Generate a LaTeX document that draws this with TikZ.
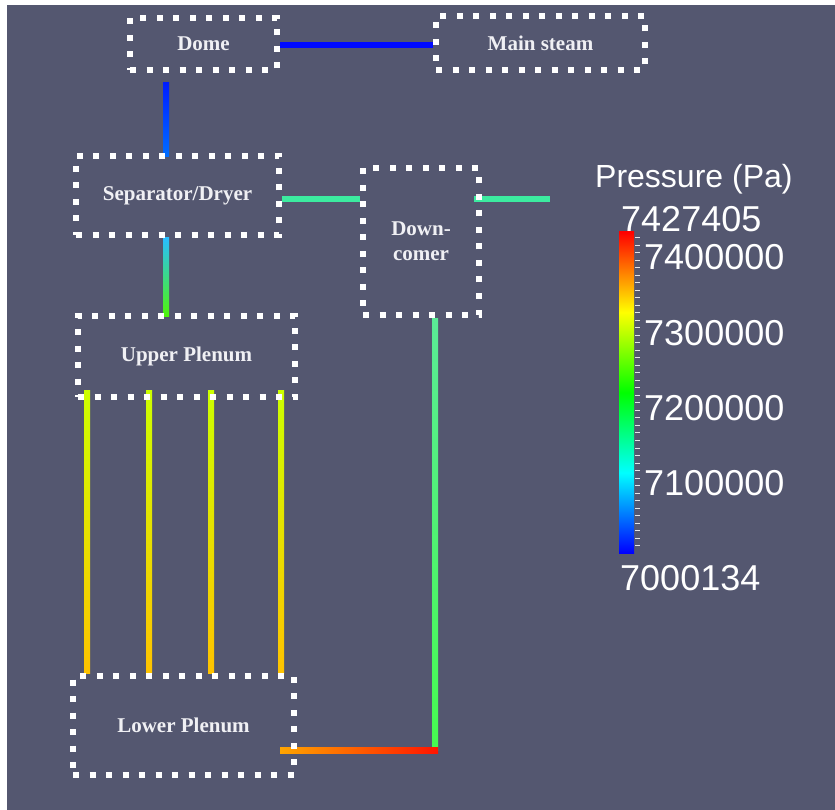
\documentclass[tikz,border=0pt]{standalone}
\usepackage{fontspec}
\setmainfont{Liberation Serif}
\newfontfamily\barfont{Liberation Sans}
\usetikzlibrary{calc,backgrounds}
\definecolor{bgc}{RGB}{84,87,112}
\definecolor{txtc}{RGB}{240,240,244}
\definecolor{pBlue}{RGB}{0,10,255}
\definecolor{pBlueA}{RGB}{0,30,255}
\definecolor{pBlueB}{RGB}{0,110,255}
\definecolor{pCyan}{RGB}{40,190,255}
\definecolor{pGreen}{RGB}{80,245,10}
\definecolor{pAqua}{RGB}{60,235,160}
\definecolor{pMint}{RGB}{90,235,150}
\definecolor{pGreenB}{RGB}{70,250,80}
\definecolor{pYG}{RGB}{205,255,0}
\definecolor{pYO}{RGB}{255,195,0}
\definecolor{pOr}{RGB}{255,165,0}
\definecolor{pRed}{RGB}{255,20,0}
\pgfdeclareverticalshading{rainbow}{100bp}{rgb(0bp)=(0,0,1); rgb(25bp)=(0,0,1); rgb(37.5bp)=(0,1,1); rgb(50bp)=(0,1,0); rgb(62.5bp)=(1,1,0); rgb(75bp)=(1,0,0); rgb(100bp)=(1,0,0)}
\tikzset{
  vessel/.style={draw=white, line width=6pt, dash pattern=on 6pt off 10.5pt,
    inner sep=0pt, text=txtc, font=\bfseries\fontsize{21}{25}\selectfont, align=center},
  barlabel/.style={anchor=base west, inner sep=0pt, text=white, font=\barfont\fontsize{36}{40}\selectfont},
  bartitle/.style={anchor=base west, inner sep=0pt, text=white, font=\barfont\fontsize{32}{36}\selectfont},
}
\begin{document}
\begin{tikzpicture}[x=1pt,y=-1pt]
\useasboundingbox (0,0) rectangle (835,810);

% vessels
\node[vessel, minimum width=147pt, minimum height=52pt] (dome) at (203.5,44) {Dome};
\node[vessel, minimum width=209pt, minimum height=54pt] (steam) at (540.5,43) {Main steam};
\node[vessel, minimum width=203pt, minimum height=79pt] (sep) at (177.5,195.5) {Separator/Dryer};
\node[vessel, minimum width=116pt, minimum height=147pt] (dc) at (421,241.5) {Down-\\comer};
\node[vessel, minimum width=217pt, minimum height=81pt] (up) at (186.5,356.5) {Upper Plenum};
\node[vessel, minimum width=221pt, minimum height=99pt] (lp) at (183.5,725.5) {Lower Plenum};

\coordinate (xa) at (166,0);
\coordinate (xd) at (435,0);
\coordinate (yh) at (0,199);
\coordinate (yb) at (0,750);
\coordinate (ys) at (0,45);
\coordinate (dcend) at (550,199);
\coordinate (corner) at (435,750);
\coordinate (c1) at (87,0);
\coordinate (c2) at (149,0);
\coordinate (c3) at (211,0);
\coordinate (c4) at (281,0);

\begin{pgfonlayer}{background}
\fill[white] (0,0) rectangle (835,810);
\fill[bgc] (7,5) rectangle (835,810);
% pipes
\fill[pBlue] ($(dome.east |- ys)+(0,-3)$) rectangle ($(steam.west |- ys)+(0,3)$);
\shade[top color=pBlueA, bottom color=pBlueB] ($(dome.south -| xa)+(-3,10)$) rectangle ($(sep.north -| xa)+(3,4)$);
\shade[top color=pCyan, bottom color=pGreen] ($(sep.south -| xa)+(-3,0)$) rectangle ($(up.north -| xa)+(3,3)$);
\fill[pAqua] ($(sep.east |- yh)+(0,-3)$) rectangle ($(dc.west |- yh)+(0,3)$);
\fill[pAqua] ($(dc.east |- yh)+(-8,-3)$) rectangle ($(dcend)+(0,3)$);
\shade[top color=pMint, bottom color=pGreenB] ($(dc.south -| xd)+(-3,0)$) rectangle ($(corner)+(3,0)$);
\shade[left color=pOr, right color=pRed] ($(lp.east |- yb)+(-17,-3)$) rectangle ($(corner)+(3,3)$);
\foreach \c in {c1,c2,c3,c4}{
  \shade[top color=pYG, bottom color=pYO] ($(up.south -| \c)+(-3,-10)$) rectangle ($(lp.north -| \c)+(3,0)$);
}
\end{pgfonlayer}

% colour bar
\shade[shading=rainbow] (619,553) rectangle (634,232);
\foreach \i in {1,...,42}{
  \draw[white!85!bgc, line width=0.8pt] (635,{553-(\i*10-0.134)/427.271*321}) -- ++(5,0);
}
\node[bartitle] (ttl) at (595,188) {Pressure (Pa)};
\node[barlabel] (lmax) at (621,232) {7427405};
\node[barlabel] (l74) at (644,270) {7400000};
\node[barlabel] (l73) at (644,345) {7300000};
\node[barlabel] (l72) at (644,420) {7200000};
\node[barlabel] (l71) at (644,495) {7100000};
\node[barlabel] (lmin) at (620,590) {7000134};
\end{tikzpicture}
\end{document}
